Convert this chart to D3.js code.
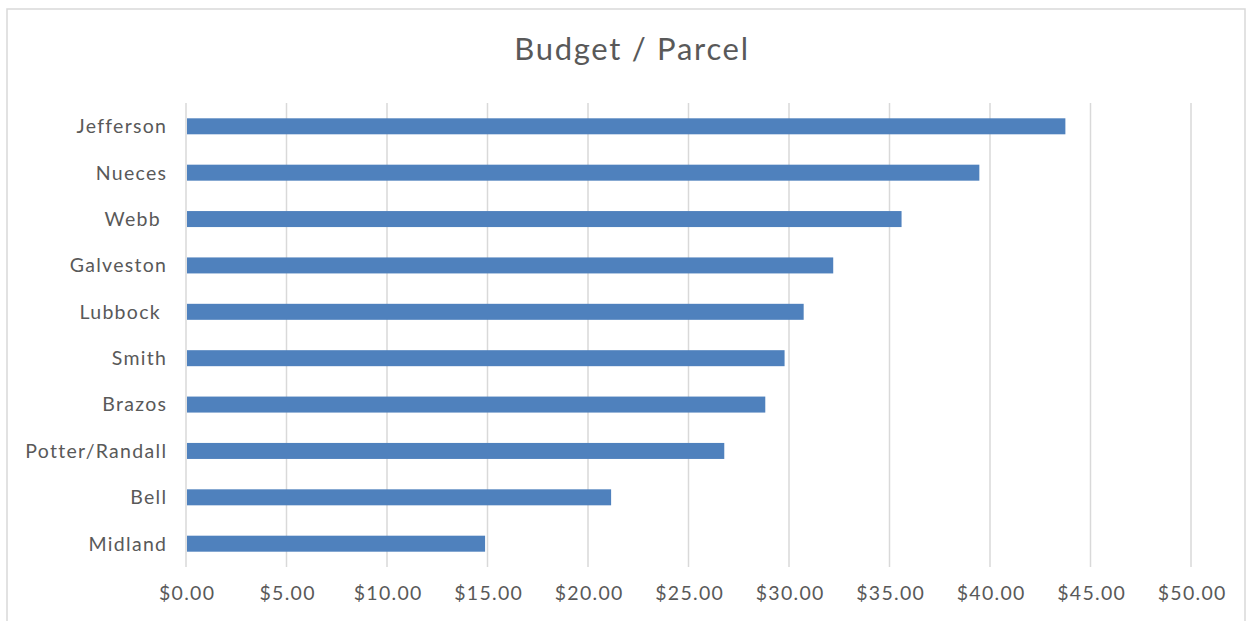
<!DOCTYPE html>
<html>
<head>
<meta charset="utf-8">
<script src="https://cdn.jsdelivr.net/npm/d3@7"></script>
<style>
  html, body { margin: 0; padding: 0; background: #fff; }
  svg text { white-space: pre; }
</style>
</head>
<body>
<svg id="chart" width="1253" height="621"></svg>
<script>
const categories = ["Jefferson", "Nueces", "Webb ", "Galveston", "Lubbock ", "Smith", "Brazos", "Potter/Randall", "Bell", "Midland"];
const values = [43.75, 39.47, 35.6, 32.2, 30.73, 29.78, 28.82, 26.78, 21.15, 14.88];
const tickValues = [0, 5, 10, 15, 20, 25, 30, 35, 40, 45, 50];
const title = "Budget / Parcel";

(function () {
const svg = d3.select("#chart");
const fontFam = "Lato, 'Open Sans', sans-serif";
const ls = 1.3;

// chart frame
svg.append("rect")
  .attr("x", 7).attr("y", 9).attr("width", 1238).attr("height", 620)
  .attr("fill", "#fff").attr("stroke", "#d9d9d9").attr("stroke-width", 1.5);

const pLeft = 186, pRight = 1191, pTop = 103, pBottom = 567;

const x = d3.scaleLinear().domain([0, 50]).range([pLeft, pRight]);
const y = d3.scaleBand().domain(categories).range([pTop, pBottom]).paddingInner(0.655).paddingOuter(0.33);

// gridlines
svg.append("g").selectAll("line").data(tickValues).join("line")
  .attr("x1", d => x(d)).attr("x2", d => x(d))
  .attr("y1", pTop).attr("y2", pBottom)
  .attr("stroke", "#d9d9d9").attr("stroke-width", 1.5);

// bars
svg.append("g").selectAll("rect").data(values).join("rect")
  .attr("x", x(0) + 1)
  .attr("y", (d, i) => y(categories[i]))
  .attr("width", d => x(d) - x(0) - 1)
  .attr("height", y.bandwidth())
  .attr("fill", "#4f81bd");

// x axis
const xAxis = d3.axisBottom(x).tickValues(tickValues).tickSize(0).tickPadding(0)
  .tickFormat(d => "$" + d3.format(".2f")(d));
const gx = svg.append("g").attr("transform", `translate(${ls / 2}, ${pBottom + 33})`).call(xAxis);
gx.select(".domain").remove();
gx.selectAll("text").attr("font-family", fontFam).attr("font-size", 19.5).attr("fill", "#595959")
  .attr("dy", "0").style("letter-spacing", ls + "px");

// y axis
const yAxis = d3.axisLeft(y).tickSize(0).tickPadding(0);
const gy = svg.append("g").attr("transform", `translate(${166 + ls}, 0)`).call(yAxis);
gy.select(".domain").remove();
gy.selectAll("text").attr("font-family", fontFam).attr("font-size", 19.5).attr("fill", "#595959")
  .attr("dy", "0.35em").style("white-space", "pre").style("letter-spacing", ls + "px");

// title
svg.append("text")
  .attr("x", 632).attr("y", 60)
  .attr("text-anchor", "middle")
  .attr("font-family", fontFam).attr("font-size", 31).attr("fill", "#595959")
  .style("letter-spacing", "1.7px")
  .text(title);
})();
</script>
</body>
</html>
